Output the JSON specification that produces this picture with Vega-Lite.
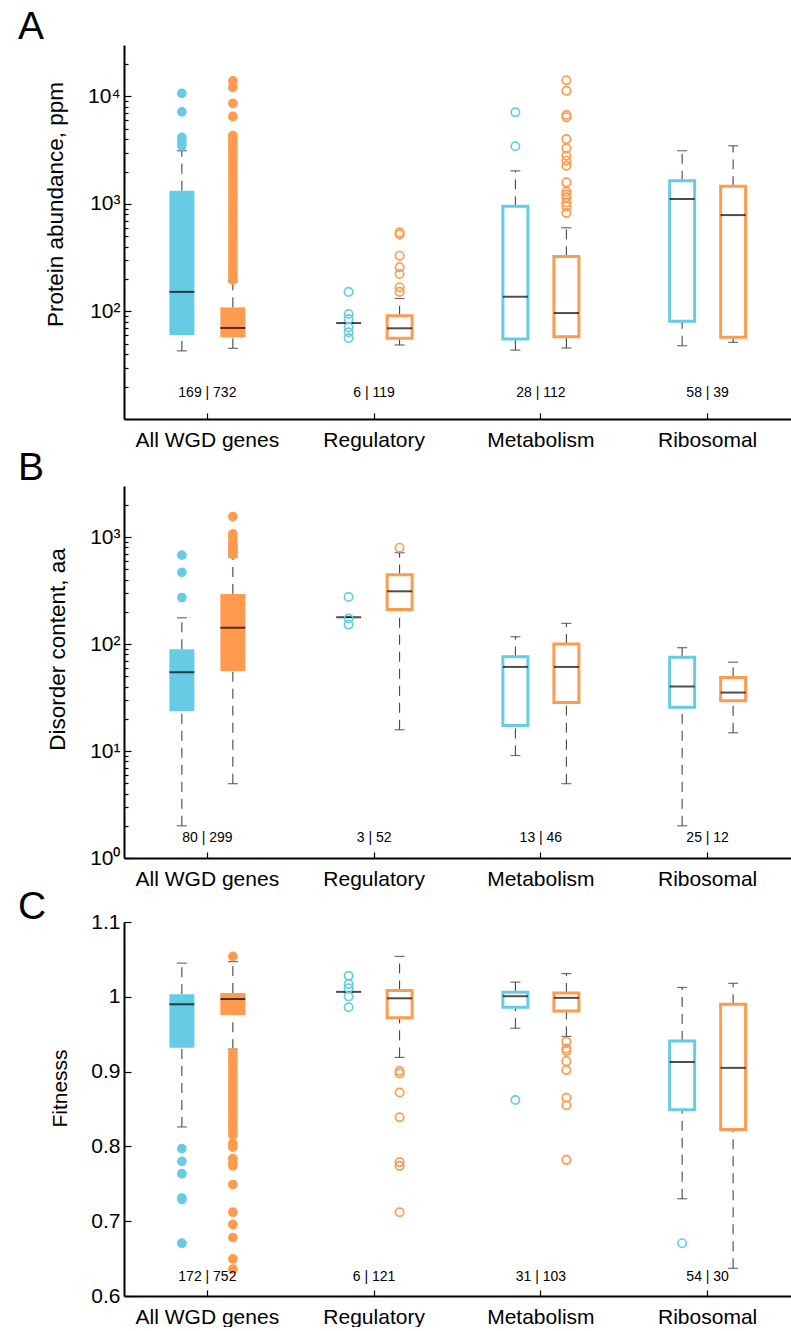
{
  "$schema": "https://vega.github.io/schema/vega-lite/v6.json",
  "background": "white",
  "padding": {"left": 18, "top": 8, "right": 0, "bottom": 0},
  "spacing": -1,
  "config": {
    "view": {"stroke": null},
    "font": "Liberation Sans",
    "axis": {"domainColor": "black", "domainWidth": 2, "tickColor": "black", "tickWidth": 1.2, "labelColor": "black", "titleColor": "black", "grid": false, "labelFont": "Liberation Sans", "titleFont": "Liberation Sans", "titleFontWeight": "normal"},
    "title": {"anchor": "start", "frame": "group", "fontSize": 39, "fontWeight": "normal", "font": "Liberation Sans", "color": "black", "dx": -106, "offset": -2, "baseline": "alphabetic"}
  },
  "datasets": {
    "boxes": [
      {"p": "A", "c": "All WGD genes", "g": "1", "lo": 43, "q1": 60.4, "med": 152, "q3": 1325, "hi": 3120},
      {"p": "A", "c": "All WGD genes", "g": "2", "lo": 45.4, "q1": 57.4, "med": 70.2, "q3": 109, "hi": 189},
      {"p": "A", "c": "Regulatory", "g": "1", "lo": 78, "q1": 78, "med": 78, "q3": 78, "hi": 78},
      {"p": "A", "c": "Regulatory", "g": "2", "lo": 48.8, "q1": 56.3, "med": 69.7, "q3": 91.2, "hi": 132},
      {"p": "A", "c": "Metabolism", "g": "1", "lo": 43.7, "q1": 55.3, "med": 137, "q3": 948, "hi": 2030},
      {"p": "A", "c": "Metabolism", "g": "2", "lo": 45.7, "q1": 58.2, "med": 96.6, "q3": 325, "hi": 600},
      {"p": "A", "c": "Ribosomal", "g": "1", "lo": 48, "q1": 81, "med": 1110, "q3": 1640, "hi": 3120},
      {"p": "A", "c": "Ribosomal", "g": "2", "lo": 51.6, "q1": 57.4, "med": 787, "q3": 1455, "hi": 3470},
      {"p": "B", "c": "All WGD genes", "g": "1", "lo": 2, "q1": 23.5, "med": 54.5, "q3": 89.3, "hi": 176},
      {"p": "B", "c": "All WGD genes", "g": "2", "lo": 4.95, "q1": 56.1, "med": 142, "q3": 294, "hi": 649},
      {"p": "B", "c": "Regulatory", "g": "1", "lo": 178, "q1": 178, "med": 178, "q3": 178, "hi": 178},
      {"p": "B", "c": "Regulatory", "g": "2", "lo": 15.8, "q1": 210, "med": 311, "q3": 445, "hi": 713},
      {"p": "B", "c": "Metabolism", "g": "1", "lo": 9.08, "q1": 17.3, "med": 61.1, "q3": 76.2, "hi": 117},
      {"p": "B", "c": "Metabolism", "g": "2", "lo": 4.95, "q1": 28.4, "med": 61.1, "q3": 100, "hi": 156},
      {"p": "B", "c": "Ribosomal", "g": "1", "lo": 2, "q1": 25.6, "med": 40.1, "q3": 75.2, "hi": 92.4},
      {"p": "B", "c": "Ribosomal", "g": "2", "lo": 14.8, "q1": 29.5, "med": 35.2, "q3": 48.6, "hi": 67.6},
      {"p": "C", "c": "All WGD genes", "g": "1", "lo": 0.826, "q1": 0.932, "med": 0.99, "q3": 1.0035, "hi": 1.045},
      {"p": "C", "c": "All WGD genes", "g": "2", "lo": 0.93, "q1": 0.9757, "med": 0.997, "q3": 1.005, "hi": 1.047},
      {"p": "C", "c": "Regulatory", "g": "1", "lo": 1.0066, "q1": 1.0066, "med": 1.0066, "q3": 1.0066, "hi": 1.0066},
      {"p": "C", "c": "Regulatory", "g": "2", "lo": 0.919, "q1": 0.972, "med": 0.998, "q3": 1.0085, "hi": 1.054},
      {"p": "C", "c": "Metabolism", "g": "1", "lo": 0.958, "q1": 0.986, "med": 1.0008, "q3": 1.006, "hi": 1.0196},
      {"p": "C", "c": "Metabolism", "g": "2", "lo": 0.947, "q1": 0.981, "med": 0.9986, "q3": 1.005, "hi": 1.031},
      {"p": "C", "c": "Ribosomal", "g": "1", "lo": 0.73, "q1": 0.849, "med": 0.9128, "q3": 0.941, "hi": 1.0125},
      {"p": "C", "c": "Ribosomal", "g": "2", "lo": 0.637, "q1": 0.8225, "med": 0.905, "q3": 0.99, "hi": 1.018}
    ],
    "outliers": [
      {"p": "A", "c": "All WGD genes", "g": "1", "v": 10650},
      {"p": "A", "c": "All WGD genes", "g": "1", "v": 7170},
      {"p": "A", "c": "All WGD genes", "g": "1", "v": 4150},
      {"p": "A", "c": "All WGD genes", "g": "1", "v": 3800},
      {"p": "A", "c": "All WGD genes", "g": "1", "v": 3470},
      {"p": "A", "c": "All WGD genes", "g": "2", "v": 13900},
      {"p": "A", "c": "All WGD genes", "g": "2", "v": 12100},
      {"p": "A", "c": "All WGD genes", "g": "2", "v": 8600},
      {"p": "A", "c": "All WGD genes", "g": "2", "v": 6500},
      {"p": "A", "c": "All WGD genes", "g": "2", "v": 4300},
      {"p": "A", "c": "All WGD genes", "g": "2", "v": 4000},
      {"p": "A", "c": "All WGD genes", "g": "2", "v": 3700},
      {"p": "A", "c": "All WGD genes", "g": "2", "v": 3400},
      {"p": "A", "c": "All WGD genes", "g": "2", "v": 3150},
      {"p": "A", "c": "All WGD genes", "g": "2", "v": 2900},
      {"p": "A", "c": "All WGD genes", "g": "2", "v": 2650},
      {"p": "A", "c": "All WGD genes", "g": "2", "v": 2450},
      {"p": "A", "c": "All WGD genes", "g": "2", "v": 2250},
      {"p": "A", "c": "All WGD genes", "g": "2", "v": 2050},
      {"p": "A", "c": "All WGD genes", "g": "2", "v": 1900},
      {"p": "A", "c": "All WGD genes", "g": "2", "v": 1750},
      {"p": "A", "c": "All WGD genes", "g": "2", "v": 1600},
      {"p": "A", "c": "All WGD genes", "g": "2", "v": 1470},
      {"p": "A", "c": "All WGD genes", "g": "2", "v": 1350},
      {"p": "A", "c": "All WGD genes", "g": "2", "v": 1240},
      {"p": "A", "c": "All WGD genes", "g": "2", "v": 1140},
      {"p": "A", "c": "All WGD genes", "g": "2", "v": 1050},
      {"p": "A", "c": "All WGD genes", "g": "2", "v": 960},
      {"p": "A", "c": "All WGD genes", "g": "2", "v": 880},
      {"p": "A", "c": "All WGD genes", "g": "2", "v": 810},
      {"p": "A", "c": "All WGD genes", "g": "2", "v": 745},
      {"p": "A", "c": "All WGD genes", "g": "2", "v": 685},
      {"p": "A", "c": "All WGD genes", "g": "2", "v": 630},
      {"p": "A", "c": "All WGD genes", "g": "2", "v": 580},
      {"p": "A", "c": "All WGD genes", "g": "2", "v": 530},
      {"p": "A", "c": "All WGD genes", "g": "2", "v": 490},
      {"p": "A", "c": "All WGD genes", "g": "2", "v": 450},
      {"p": "A", "c": "All WGD genes", "g": "2", "v": 415},
      {"p": "A", "c": "All WGD genes", "g": "2", "v": 380},
      {"p": "A", "c": "All WGD genes", "g": "2", "v": 350},
      {"p": "A", "c": "All WGD genes", "g": "2", "v": 320},
      {"p": "A", "c": "All WGD genes", "g": "2", "v": 295},
      {"p": "A", "c": "All WGD genes", "g": "2", "v": 270},
      {"p": "A", "c": "All WGD genes", "g": "2", "v": 250},
      {"p": "A", "c": "All WGD genes", "g": "2", "v": 230},
      {"p": "A", "c": "All WGD genes", "g": "2", "v": 212},
      {"p": "A", "c": "All WGD genes", "g": "2", "v": 196},
      {"p": "A", "c": "Regulatory", "g": "1", "v": 152},
      {"p": "A", "c": "Regulatory", "g": "1", "v": 94.6},
      {"p": "A", "c": "Regulatory", "g": "1", "v": 85},
      {"p": "A", "c": "Regulatory", "g": "1", "v": 71},
      {"p": "A", "c": "Regulatory", "g": "1", "v": 64},
      {"p": "A", "c": "Regulatory", "g": "1", "v": 56.6},
      {"p": "A", "c": "Regulatory", "g": "2", "v": 543},
      {"p": "A", "c": "Regulatory", "g": "2", "v": 520},
      {"p": "A", "c": "Regulatory", "g": "2", "v": 330},
      {"p": "A", "c": "Regulatory", "g": "2", "v": 257},
      {"p": "A", "c": "Regulatory", "g": "2", "v": 223},
      {"p": "A", "c": "Regulatory", "g": "2", "v": 168},
      {"p": "A", "c": "Regulatory", "g": "2", "v": 152},
      {"p": "A", "c": "Metabolism", "g": "1", "v": 7100},
      {"p": "A", "c": "Metabolism", "g": "1", "v": 3430},
      {"p": "A", "c": "Metabolism", "g": "2", "v": 14100},
      {"p": "A", "c": "Metabolism", "g": "2", "v": 11250},
      {"p": "A", "c": "Metabolism", "g": "2", "v": 6700},
      {"p": "A", "c": "Metabolism", "g": "2", "v": 6400},
      {"p": "A", "c": "Metabolism", "g": "2", "v": 4000},
      {"p": "A", "c": "Metabolism", "g": "2", "v": 3290},
      {"p": "A", "c": "Metabolism", "g": "2", "v": 2800},
      {"p": "A", "c": "Metabolism", "g": "2", "v": 2520},
      {"p": "A", "c": "Metabolism", "g": "2", "v": 2260},
      {"p": "A", "c": "Metabolism", "g": "2", "v": 1585},
      {"p": "A", "c": "Metabolism", "g": "2", "v": 1300},
      {"p": "A", "c": "Metabolism", "g": "2", "v": 1220},
      {"p": "A", "c": "Metabolism", "g": "2", "v": 1150},
      {"p": "A", "c": "Metabolism", "g": "2", "v": 1030},
      {"p": "A", "c": "Metabolism", "g": "2", "v": 948},
      {"p": "A", "c": "Metabolism", "g": "2", "v": 822},
      {"p": "B", "c": "All WGD genes", "g": "1", "v": 677},
      {"p": "B", "c": "All WGD genes", "g": "1", "v": 468},
      {"p": "B", "c": "All WGD genes", "g": "1", "v": 272},
      {"p": "B", "c": "All WGD genes", "g": "2", "v": 1552},
      {"p": "B", "c": "All WGD genes", "g": "2", "v": 1070},
      {"p": "B", "c": "All WGD genes", "g": "2", "v": 995},
      {"p": "B", "c": "All WGD genes", "g": "2", "v": 900},
      {"p": "B", "c": "All WGD genes", "g": "2", "v": 850},
      {"p": "B", "c": "All WGD genes", "g": "2", "v": 800},
      {"p": "B", "c": "All WGD genes", "g": "2", "v": 760},
      {"p": "B", "c": "All WGD genes", "g": "2", "v": 720},
      {"p": "B", "c": "All WGD genes", "g": "2", "v": 690},
      {"p": "B", "c": "Regulatory", "g": "1", "v": 275},
      {"p": "B", "c": "Regulatory", "g": "1", "v": 173},
      {"p": "B", "c": "Regulatory", "g": "1", "v": 152},
      {"p": "B", "c": "Regulatory", "g": "2", "v": 795},
      {"p": "C", "c": "All WGD genes", "g": "1", "v": 0.797},
      {"p": "C", "c": "All WGD genes", "g": "1", "v": 0.78},
      {"p": "C", "c": "All WGD genes", "g": "1", "v": 0.7635},
      {"p": "C", "c": "All WGD genes", "g": "1", "v": 0.731},
      {"p": "C", "c": "All WGD genes", "g": "1", "v": 0.729},
      {"p": "C", "c": "All WGD genes", "g": "1", "v": 0.6706},
      {"p": "C", "c": "All WGD genes", "g": "2", "v": 1.054},
      {"p": "C", "c": "All WGD genes", "g": "2", "v": 0.925},
      {"p": "C", "c": "All WGD genes", "g": "2", "v": 0.92},
      {"p": "C", "c": "All WGD genes", "g": "2", "v": 0.915},
      {"p": "C", "c": "All WGD genes", "g": "2", "v": 0.91},
      {"p": "C", "c": "All WGD genes", "g": "2", "v": 0.905},
      {"p": "C", "c": "All WGD genes", "g": "2", "v": 0.9},
      {"p": "C", "c": "All WGD genes", "g": "2", "v": 0.895},
      {"p": "C", "c": "All WGD genes", "g": "2", "v": 0.89},
      {"p": "C", "c": "All WGD genes", "g": "2", "v": 0.885},
      {"p": "C", "c": "All WGD genes", "g": "2", "v": 0.88},
      {"p": "C", "c": "All WGD genes", "g": "2", "v": 0.875},
      {"p": "C", "c": "All WGD genes", "g": "2", "v": 0.87},
      {"p": "C", "c": "All WGD genes", "g": "2", "v": 0.865},
      {"p": "C", "c": "All WGD genes", "g": "2", "v": 0.86},
      {"p": "C", "c": "All WGD genes", "g": "2", "v": 0.855},
      {"p": "C", "c": "All WGD genes", "g": "2", "v": 0.85},
      {"p": "C", "c": "All WGD genes", "g": "2", "v": 0.845},
      {"p": "C", "c": "All WGD genes", "g": "2", "v": 0.84},
      {"p": "C", "c": "All WGD genes", "g": "2", "v": 0.835},
      {"p": "C", "c": "All WGD genes", "g": "2", "v": 0.83},
      {"p": "C", "c": "All WGD genes", "g": "2", "v": 0.825},
      {"p": "C", "c": "All WGD genes", "g": "2", "v": 0.82},
      {"p": "C", "c": "All WGD genes", "g": "2", "v": 0.815},
      {"p": "C", "c": "All WGD genes", "g": "2", "v": 0.8037},
      {"p": "C", "c": "All WGD genes", "g": "2", "v": 0.799},
      {"p": "C", "c": "All WGD genes", "g": "2", "v": 0.7836},
      {"p": "C", "c": "All WGD genes", "g": "2", "v": 0.777},
      {"p": "C", "c": "All WGD genes", "g": "2", "v": 0.774},
      {"p": "C", "c": "All WGD genes", "g": "2", "v": 0.749},
      {"p": "C", "c": "All WGD genes", "g": "2", "v": 0.712},
      {"p": "C", "c": "All WGD genes", "g": "2", "v": 0.6956},
      {"p": "C", "c": "All WGD genes", "g": "2", "v": 0.678},
      {"p": "C", "c": "All WGD genes", "g": "2", "v": 0.6496},
      {"p": "C", "c": "All WGD genes", "g": "2", "v": 0.636},
      {"p": "C", "c": "Regulatory", "g": "1", "v": 1.028},
      {"p": "C", "c": "Regulatory", "g": "1", "v": 1.017},
      {"p": "C", "c": "Regulatory", "g": "1", "v": 1.0115},
      {"p": "C", "c": "Regulatory", "g": "1", "v": 1.0004},
      {"p": "C", "c": "Regulatory", "g": "1", "v": 0.986},
      {"p": "C", "c": "Regulatory", "g": "2", "v": 0.9007},
      {"p": "C", "c": "Regulatory", "g": "2", "v": 0.8976},
      {"p": "C", "c": "Regulatory", "g": "2", "v": 0.872},
      {"p": "C", "c": "Regulatory", "g": "2", "v": 0.839},
      {"p": "C", "c": "Regulatory", "g": "2", "v": 0.779},
      {"p": "C", "c": "Regulatory", "g": "2", "v": 0.774},
      {"p": "C", "c": "Regulatory", "g": "2", "v": 0.712},
      {"p": "C", "c": "Metabolism", "g": "1", "v": 0.862},
      {"p": "C", "c": "Metabolism", "g": "2", "v": 0.94},
      {"p": "C", "c": "Metabolism", "g": "2", "v": 0.931},
      {"p": "C", "c": "Metabolism", "g": "2", "v": 0.9275},
      {"p": "C", "c": "Metabolism", "g": "2", "v": 0.914},
      {"p": "C", "c": "Metabolism", "g": "2", "v": 0.902},
      {"p": "C", "c": "Metabolism", "g": "2", "v": 0.865},
      {"p": "C", "c": "Metabolism", "g": "2", "v": 0.855},
      {"p": "C", "c": "Metabolism", "g": "2", "v": 0.782},
      {"p": "C", "c": "Ribosomal", "g": "1", "v": 0.6706}
    ],
    "counts": [
      {"p": "A", "c": "All WGD genes", "n": "169 | 732"},
      {"p": "A", "c": "Regulatory", "n": "6 | 119"},
      {"p": "A", "c": "Metabolism", "n": "28 | 112"},
      {"p": "A", "c": "Ribosomal", "n": "58 | 39"},
      {"p": "B", "c": "All WGD genes", "n": "80 | 299"},
      {"p": "B", "c": "Regulatory", "n": "3 | 52"},
      {"p": "B", "c": "Metabolism", "n": "13 | 46"},
      {"p": "B", "c": "Ribosomal", "n": "25 | 12"},
      {"p": "C", "c": "All WGD genes", "n": "172 | 752"},
      {"p": "C", "c": "Regulatory", "n": "6 | 121"},
      {"p": "C", "c": "Metabolism", "n": "31 | 103"},
      {"p": "C", "c": "Ribosomal", "n": "54 | 30"}
    ]
  },
  "vconcat": [
    {
      "title": {"text": "A"},
      "width": 667, "height": 374,
      "encoding": {
        "x": {"field": "c", "type": "nominal", "sort": ["All WGD genes", "Regulatory", "Metabolism", "Ribosomal"], "scale": {"domain": ["All WGD genes", "Regulatory", "Metabolism", "Ribosomal"], "paddingInner": 0, "paddingOuter": 0}, "axis": {"title": null, "labelAngle": 0, "labelFontSize": 21, "tickSize": -6, "labelPadding": 16}}
      },
      "layer": [
        {"data": {"name": "boxes"}, "transform": [{"filter": "datum.p == 'A'"}], "mark": {"type": "rule", "strokeDash": [10, 7], "color": "#333333", "strokeWidth": 1},
         "encoding": {"xOffset": {"field": "g", "type": "nominal", "scale": {"domain": ["1", "2"], "paddingOuter": 0.89, "paddingInner": 0.51}},
           "y": {"field": "lo", "type": "quantitative", "scale": {"type": "log", "domain": [10, 30000], "nice": false}, "axis": {"title": "Protein abundance, ppm", "titleFontSize": 22.5, "titlePadding": 20, "titleY": 159, "labelFontSize": 21, "labelPadding": 11, "labelOverlap": false, "labelFlush": false, "values": [20, 30, 40, 50, 60, 70, 80, 90, 100, 200, 300, 400, 500, 600, 700, 800, 900, 1000, 2000, 3000, 4000, 5000, 6000, 7000, 8000, 9000, 10000, 20000], "labelExpr": "datum.value == 100 ? '10²' : datum.value == 1000 ? '10³' : datum.value == 10000 ? '10⁴' : ''", "tickSize": {"condition": {"test": "datum.value == 100 || datum.value == 1000 || datum.value == 10000", "value": -7}, "value": -4}}},
           "y2": {"field": "q1"}}},
        {"data": {"name": "boxes"}, "transform": [{"filter": "datum.p == 'A'"}], "mark": {"type": "rule", "strokeDash": [10, 7], "color": "#333333", "strokeWidth": 1},
         "encoding": {"xOffset": {"field": "g", "type": "nominal"}, "y": {"field": "q3", "type": "quantitative"}, "y2": {"field": "hi"}}},
        {"data": {"name": "boxes"}, "transform": [{"filter": "datum.p == 'A'"}], "mark": {"type": "tick", "size": 10, "thickness": 1.2, "color": "#333333"},
         "encoding": {"xOffset": {"field": "g", "type": "nominal"}, "y": {"field": "lo", "type": "quantitative"}}},
        {"data": {"name": "boxes"}, "transform": [{"filter": "datum.p == 'A'"}], "mark": {"type": "tick", "size": 10, "thickness": 1.2, "color": "#333333"},
         "encoding": {"xOffset": {"field": "g", "type": "nominal"}, "y": {"field": "hi", "type": "quantitative"}}},
        {"data": {"name": "boxes"}, "transform": [{"filter": "datum.p == 'A' && datum.q3 > datum.q1"}], "mark": {"type": "bar"},
         "encoding": {"xOffset": {"field": "g", "type": "nominal"}, "y": {"field": "q1", "type": "quantitative"}, "y2": {"field": "q3"},
           "fill": {"condition": {"test": "datum.c != 'All WGD genes'", "value": "white"}, "field": "g", "type": "nominal", "scale": {"domain": ["1", "2"], "range": ["#66CCE6", "#FF9A4E"]}, "legend": null},
           "stroke": {"field": "g", "type": "nominal", "scale": {"domain": ["1", "2"], "range": ["#66CCE6", "#FF9A4E"]}, "legend": null},
           "strokeWidth": {"condition": {"test": "datum.c == 'All WGD genes'", "value": 0}, "value": 3}}},
        {"data": {"name": "boxes"}, "transform": [{"filter": "datum.p == 'A'"}], "mark": {"type": "tick", "size": 25, "thickness": 2, "color": "black"},
         "encoding": {"xOffset": {"field": "g", "type": "nominal"}, "y": {"field": "med", "type": "quantitative"}}},
        {"data": {"name": "outliers"}, "transform": [{"filter": "datum.p == 'A' && datum.c == 'All WGD genes'"}], "mark": {"type": "point", "shape": "circle", "filled": true, "size": 95, "opacity": 1},
         "encoding": {"xOffset": {"field": "g", "type": "nominal"}, "y": {"field": "v", "type": "quantitative"}, "color": {"field": "g", "type": "nominal", "scale": {"domain": ["1", "2"], "range": ["#66CCE6", "#FF9A4E"]}, "legend": null}}},
        {"data": {"name": "outliers"}, "transform": [{"filter": "datum.p == 'A' && datum.c != 'All WGD genes'"}], "mark": {"type": "point", "shape": "circle", "filled": false, "size": 70, "strokeWidth": 1.7, "opacity": 1},
         "encoding": {"xOffset": {"field": "g", "type": "nominal"}, "y": {"field": "v", "type": "quantitative"}, "color": {"field": "g", "type": "nominal", "scale": {"domain": ["1", "2"], "range": ["#66CCE6", "#FF9A4E"]}, "legend": null}}},
        {"data": {"name": "counts"}, "transform": [{"filter": "datum.p == 'A'"}], "mark": {"type": "text", "fontSize": 14, "color": "black", "baseline": "middle", "font": "Liberation Sans"},
         "encoding": {"y": {"datum": 17.5, "type": "quantitative"}, "text": {"field": "n", "type": "nominal"}}}
      ]
    },
    {
      "title": {"text": "B"},
      "width": 667, "height": 372,
      "encoding": {
        "x": {"field": "c", "type": "nominal", "sort": ["All WGD genes", "Regulatory", "Metabolism", "Ribosomal"], "scale": {"domain": ["All WGD genes", "Regulatory", "Metabolism", "Ribosomal"], "paddingInner": 0, "paddingOuter": 0}, "axis": {"title": null, "labelAngle": 0, "labelFontSize": 21, "tickSize": -6, "labelPadding": 16}}
      },
      "layer": [
        {"data": {"name": "boxes"}, "transform": [{"filter": "datum.p == 'B'"}], "mark": {"type": "rule", "strokeDash": [10, 7], "color": "#333333", "strokeWidth": 1},
         "encoding": {"xOffset": {"field": "g", "type": "nominal", "scale": {"domain": ["1", "2"], "paddingOuter": 0.89, "paddingInner": 0.51}},
           "y": {"field": "lo", "type": "quantitative", "scale": {"type": "log", "domain": [1, 3000], "nice": false}, "axis": {"title": "Disorder content, aa", "titleFontSize": 22.5, "titlePadding": 20, "titleY": 163, "labelFontSize": 21, "labelPadding": 11, "labelOverlap": false, "labelFlush": false, "values": [1, 2, 3, 4, 5, 6, 7, 8, 9, 10, 20, 30, 40, 50, 60, 70, 80, 90, 100, 200, 300, 400, 500, 600, 700, 800, 900, 1000, 2000], "labelExpr": "datum.value == 1 ? '10⁰' : datum.value == 10 ? '10¹' : datum.value == 100 ? '10²' : datum.value == 1000 ? '10³' : ''", "tickSize": {"condition": {"test": "datum.value == 1 || datum.value == 10 || datum.value == 100 || datum.value == 1000", "value": -7}, "value": -4}}},
           "y2": {"field": "q1"}}},
        {"data": {"name": "boxes"}, "transform": [{"filter": "datum.p == 'B'"}], "mark": {"type": "rule", "strokeDash": [10, 7], "color": "#333333", "strokeWidth": 1},
         "encoding": {"xOffset": {"field": "g", "type": "nominal"}, "y": {"field": "q3", "type": "quantitative"}, "y2": {"field": "hi"}}},
        {"data": {"name": "boxes"}, "transform": [{"filter": "datum.p == 'B'"}], "mark": {"type": "tick", "size": 10, "thickness": 1.2, "color": "#333333"},
         "encoding": {"xOffset": {"field": "g", "type": "nominal"}, "y": {"field": "lo", "type": "quantitative"}}},
        {"data": {"name": "boxes"}, "transform": [{"filter": "datum.p == 'B'"}], "mark": {"type": "tick", "size": 10, "thickness": 1.2, "color": "#333333"},
         "encoding": {"xOffset": {"field": "g", "type": "nominal"}, "y": {"field": "hi", "type": "quantitative"}}},
        {"data": {"name": "boxes"}, "transform": [{"filter": "datum.p == 'B' && datum.q3 > datum.q1"}], "mark": {"type": "bar"},
         "encoding": {"xOffset": {"field": "g", "type": "nominal"}, "y": {"field": "q1", "type": "quantitative"}, "y2": {"field": "q3"},
           "fill": {"condition": {"test": "datum.c != 'All WGD genes'", "value": "white"}, "field": "g", "type": "nominal", "scale": {"domain": ["1", "2"], "range": ["#66CCE6", "#FF9A4E"]}, "legend": null},
           "stroke": {"field": "g", "type": "nominal", "scale": {"domain": ["1", "2"], "range": ["#66CCE6", "#FF9A4E"]}, "legend": null},
           "strokeWidth": {"condition": {"test": "datum.c == 'All WGD genes'", "value": 0}, "value": 3}}},
        {"data": {"name": "boxes"}, "transform": [{"filter": "datum.p == 'B'"}], "mark": {"type": "tick", "size": 25, "thickness": 2, "color": "black"},
         "encoding": {"xOffset": {"field": "g", "type": "nominal"}, "y": {"field": "med", "type": "quantitative"}}},
        {"data": {"name": "outliers"}, "transform": [{"filter": "datum.p == 'B' && datum.c == 'All WGD genes'"}], "mark": {"type": "point", "shape": "circle", "filled": true, "size": 95, "opacity": 1},
         "encoding": {"xOffset": {"field": "g", "type": "nominal"}, "y": {"field": "v", "type": "quantitative"}, "color": {"field": "g", "type": "nominal", "scale": {"domain": ["1", "2"], "range": ["#66CCE6", "#FF9A4E"]}, "legend": null}}},
        {"data": {"name": "outliers"}, "transform": [{"filter": "datum.p == 'B' && datum.c != 'All WGD genes'"}], "mark": {"type": "point", "shape": "circle", "filled": false, "size": 70, "strokeWidth": 1.7, "opacity": 1},
         "encoding": {"xOffset": {"field": "g", "type": "nominal"}, "y": {"field": "v", "type": "quantitative"}, "color": {"field": "g", "type": "nominal", "scale": {"domain": ["1", "2"], "range": ["#66CCE6", "#FF9A4E"]}, "legend": null}}},
        {"data": {"name": "counts"}, "transform": [{"filter": "datum.p == 'B'"}], "mark": {"type": "text", "fontSize": 14, "color": "black", "baseline": "middle", "font": "Liberation Sans"},
         "encoding": {"y": {"datum": 1.535, "type": "quantitative"}, "text": {"field": "n", "type": "nominal"}}}
      ]
    },
    {
      "title": {"text": "C", "offset": -16},
      "width": 667, "height": 374,
      "encoding": {
        "x": {"field": "c", "type": "nominal", "sort": ["All WGD genes", "Regulatory", "Metabolism", "Ribosomal"], "scale": {"domain": ["All WGD genes", "Regulatory", "Metabolism", "Ribosomal"], "paddingInner": 0, "paddingOuter": 0}, "axis": {"title": null, "labelAngle": 0, "labelFontSize": 21, "tickSize": -6, "labelPadding": 16}}
      },
      "layer": [
        {"data": {"name": "boxes"}, "transform": [{"filter": "datum.p == 'C'"}], "mark": {"type": "rule", "strokeDash": [10, 7], "color": "#333333", "strokeWidth": 1},
         "encoding": {"xOffset": {"field": "g", "type": "nominal", "scale": {"domain": ["1", "2"], "paddingOuter": 0.89, "paddingInner": 0.51}},
           "y": {"field": "lo", "type": "quantitative", "scale": {"domain": [0.6, 1.1], "nice": false, "zero": false}, "axis": {"title": "Fitnesss", "titleFontSize": 21, "titlePadding": 20, "titleY": 166, "labelFontSize": 21, "labelPadding": 11, "labelOverlap": false, "labelFlush": false, "values": [0.6, 0.7, 0.8, 0.9, 1, 1.1], "labelExpr": "format(datum.value, '~g')", "tickSize": -7}},
           "y2": {"field": "q1"}}},
        {"data": {"name": "boxes"}, "transform": [{"filter": "datum.p == 'C'"}], "mark": {"type": "rule", "strokeDash": [10, 7], "color": "#333333", "strokeWidth": 1},
         "encoding": {"xOffset": {"field": "g", "type": "nominal"}, "y": {"field": "q3", "type": "quantitative"}, "y2": {"field": "hi"}}},
        {"data": {"name": "boxes"}, "transform": [{"filter": "datum.p == 'C'"}], "mark": {"type": "tick", "size": 10, "thickness": 1.2, "color": "#333333"},
         "encoding": {"xOffset": {"field": "g", "type": "nominal"}, "y": {"field": "lo", "type": "quantitative"}}},
        {"data": {"name": "boxes"}, "transform": [{"filter": "datum.p == 'C'"}], "mark": {"type": "tick", "size": 10, "thickness": 1.2, "color": "#333333"},
         "encoding": {"xOffset": {"field": "g", "type": "nominal"}, "y": {"field": "hi", "type": "quantitative"}}},
        {"data": {"name": "boxes"}, "transform": [{"filter": "datum.p == 'C' && datum.q3 > datum.q1"}], "mark": {"type": "bar"},
         "encoding": {"xOffset": {"field": "g", "type": "nominal"}, "y": {"field": "q1", "type": "quantitative"}, "y2": {"field": "q3"},
           "fill": {"condition": {"test": "datum.c != 'All WGD genes'", "value": "white"}, "field": "g", "type": "nominal", "scale": {"domain": ["1", "2"], "range": ["#66CCE6", "#FF9A4E"]}, "legend": null},
           "stroke": {"field": "g", "type": "nominal", "scale": {"domain": ["1", "2"], "range": ["#66CCE6", "#FF9A4E"]}, "legend": null},
           "strokeWidth": {"condition": {"test": "datum.c == 'All WGD genes'", "value": 0}, "value": 3}}},
        {"data": {"name": "boxes"}, "transform": [{"filter": "datum.p == 'C'"}], "mark": {"type": "tick", "size": 25, "thickness": 2, "color": "black"},
         "encoding": {"xOffset": {"field": "g", "type": "nominal"}, "y": {"field": "med", "type": "quantitative"}}},
        {"data": {"name": "outliers"}, "transform": [{"filter": "datum.p == 'C' && datum.c == 'All WGD genes'"}], "mark": {"type": "point", "shape": "circle", "filled": true, "size": 95, "opacity": 1},
         "encoding": {"xOffset": {"field": "g", "type": "nominal"}, "y": {"field": "v", "type": "quantitative"}, "color": {"field": "g", "type": "nominal", "scale": {"domain": ["1", "2"], "range": ["#66CCE6", "#FF9A4E"]}, "legend": null}}},
        {"data": {"name": "outliers"}, "transform": [{"filter": "datum.p == 'C' && datum.c != 'All WGD genes'"}], "mark": {"type": "point", "shape": "circle", "filled": false, "size": 70, "strokeWidth": 1.7, "opacity": 1},
         "encoding": {"xOffset": {"field": "g", "type": "nominal"}, "y": {"field": "v", "type": "quantitative"}, "color": {"field": "g", "type": "nominal", "scale": {"domain": ["1", "2"], "range": ["#66CCE6", "#FF9A4E"]}, "legend": null}}},
        {"data": {"name": "counts"}, "transform": [{"filter": "datum.p == 'C'"}], "mark": {"type": "text", "fontSize": 14, "color": "black", "baseline": "middle", "font": "Liberation Sans"},
         "encoding": {"y": {"datum": 0.6248, "type": "quantitative"}, "text": {"field": "n", "type": "nominal"}}}
      ]
    }
  ]
}
